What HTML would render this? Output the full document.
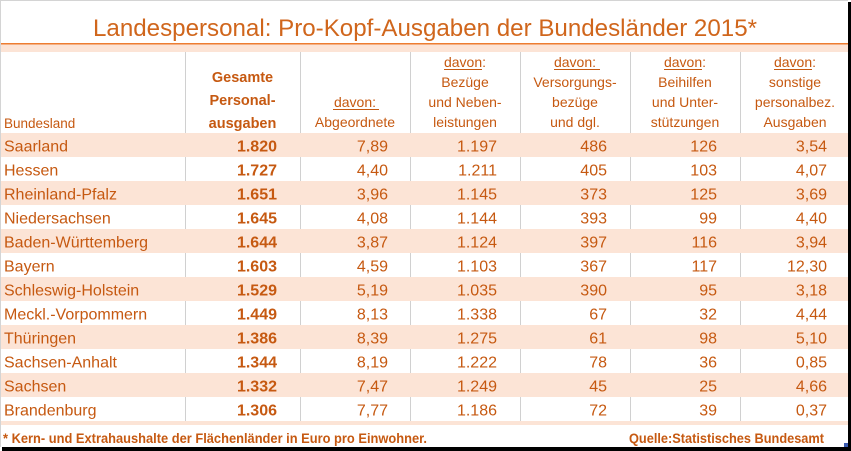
<!DOCTYPE html>
<html>
<head>
<meta charset="utf-8">
<style>
html,body{margin:0;padding:0;background:#fff;}
svg{display:block;}
text{font-family:"Liberation Sans",Arial,sans-serif;fill:#C65911;}
.h{font-size:14px;text-anchor:middle;}
.hb{font-size:14.5px;font-weight:bold;text-anchor:middle;}
.d{font-size:16px;}
.n{font-size:16px;text-anchor:end;}
.nb{font-size:16px;text-anchor:end;font-weight:bold;}
.f{font-size:14px;font-weight:bold;}
</style>
</head>
<body>
<svg width="851" height="451" viewBox="0 0 851 451" xmlns="http://www.w3.org/2000/svg">
<rect x="0" y="0" width="851" height="451" fill="#fff"/>
<!-- frame -->
<rect x="0" y="0" width="848" height="1" fill="#d4d4d4"/>
<rect x="0" y="0" width="1" height="447" fill="#d4d4d4"/>
<rect x="848" y="2" width="3" height="449" fill="#000"/>
<rect x="2" y="447" width="849" height="4" fill="#000"/>
<rect x="844" y="443" width="4" height="4" fill="#3a5bb0"/>

<!-- title -->
<text x="425" y="36" style="font-size:24px;fill:#D0661C" text-anchor="middle" textLength="664" lengthAdjust="spacingAndGlyphs">Landespersonal: Pro-Kopf-Ausgaben der Bundesländer 2015*</text>
<rect x="1" y="43" width="847" height="1.5" fill="#ED7D31"/>
<rect x="1" y="44.5" width="847" height="7.5" fill="#FCE4D6"/>

<!-- vertical dividers -->
<g fill="#d0d0d0">
<rect x="185" y="52" width="1" height="369"/>
<rect x="300" y="52" width="1" height="369"/>
<rect x="410" y="52" width="1" height="369"/>
<rect x="520" y="52" width="1" height="369"/>
<rect x="630" y="52" width="1" height="369"/>
<rect x="740" y="52" width="1" height="369"/>
</g>

<!-- pink rows -->
<g fill="#FCE4D6">
<rect x="1" y="133" width="847" height="24"/>
<rect x="1" y="181" width="847" height="24"/>
<rect x="1" y="229" width="847" height="24"/>
<rect x="1" y="277" width="847" height="24"/>
<rect x="1" y="325" width="847" height="24"/>
<rect x="1" y="373" width="847" height="24"/>
<rect x="1" y="421" width="847" height="4"/>
</g>

<!-- header -->
<text x="4" y="128" style="font-size:13.5px">Bundesland</text>

<text class="hb" x="242.5" y="82">Gesamte</text>
<text class="hb" x="242.5" y="105">Personal-</text>
<text class="hb" x="242.5" y="128">ausgaben</text>

<text class="h" x="355" y="107">davon:</text>
<rect x="333" y="109" width="46" height="1" fill="#C65911"/>
<text class="h" x="355" y="127">Abgeordnete</text>

<text class="h" x="465" y="67">davon:</text>
<rect x="444" y="69" width="38" height="1" fill="#C65911"/>
<text class="h" x="465" y="87">Bezüge</text>
<text class="h" x="465" y="107">und Neben-</text>
<text class="h" x="465" y="127">leistungen</text>

<text class="h" x="575" y="67">davon:</text>
<rect x="554" y="69" width="46" height="1" fill="#C65911"/>
<text class="h" x="575" y="87">Versorgungs-</text>
<text class="h" x="575" y="107">bezüge</text>
<text class="h" x="575" y="127">und dgl.</text>

<text class="h" x="685" y="67">davon:</text>
<rect x="664" y="69" width="38" height="1" fill="#C65911"/>
<text class="h" x="685" y="87">Beihilfen</text>
<text class="h" x="685" y="107">und Unter-</text>
<text class="h" x="685" y="127">stützungen</text>

<text class="h" x="795" y="67">davon:</text>
<rect x="774" y="69" width="38" height="1" fill="#C65911"/>
<text class="h" x="795" y="87">sonstige</text>
<text class="h" x="795" y="107">personalbez.</text>
<text class="h" x="795" y="127">Ausgaben</text>

<!-- data rows -->
<g>
<text class="d" x="4" y="151.5">Saarland</text>
<text class="nb" x="277" y="151.5">1.820</text>
<text class="n" x="388" y="151.5">7,89</text>
<text class="n" x="497" y="151.5">1.197</text>
<text class="n" x="607" y="151.5">486</text>
<text class="n" x="717" y="151.5">126</text>
<text class="n" x="827" y="151.5">3,54</text>

<text class="d" x="4" y="175.5">Hessen</text>
<text class="nb" x="277" y="175.5">1.727</text>
<text class="n" x="388" y="175.5">4,40</text>
<text class="n" x="497" y="175.5">1.211</text>
<text class="n" x="607" y="175.5">405</text>
<text class="n" x="717" y="175.5">103</text>
<text class="n" x="827" y="175.5">4,07</text>

<text class="d" x="4" y="199.5">Rheinland-Pfalz</text>
<text class="nb" x="277" y="199.5">1.651</text>
<text class="n" x="388" y="199.5">3,96</text>
<text class="n" x="497" y="199.5">1.145</text>
<text class="n" x="607" y="199.5">373</text>
<text class="n" x="717" y="199.5">125</text>
<text class="n" x="827" y="199.5">3,69</text>

<text class="d" x="4" y="223.5">Niedersachsen</text>
<text class="nb" x="277" y="223.5">1.645</text>
<text class="n" x="388" y="223.5">4,08</text>
<text class="n" x="497" y="223.5">1.144</text>
<text class="n" x="607" y="223.5">393</text>
<text class="n" x="717" y="223.5">99</text>
<text class="n" x="827" y="223.5">4,40</text>

<text class="d" x="4" y="247.5">Baden-Württemberg</text>
<text class="nb" x="277" y="247.5">1.644</text>
<text class="n" x="388" y="247.5">3,87</text>
<text class="n" x="497" y="247.5">1.124</text>
<text class="n" x="607" y="247.5">397</text>
<text class="n" x="717" y="247.5">116</text>
<text class="n" x="827" y="247.5">3,94</text>

<text class="d" x="4" y="271.5">Bayern</text>
<text class="nb" x="277" y="271.5">1.603</text>
<text class="n" x="388" y="271.5">4,59</text>
<text class="n" x="497" y="271.5">1.103</text>
<text class="n" x="607" y="271.5">367</text>
<text class="n" x="717" y="271.5">117</text>
<text class="n" x="827" y="271.5">12,30</text>

<text class="d" x="4" y="295.5">Schleswig-Holstein</text>
<text class="nb" x="277" y="295.5">1.529</text>
<text class="n" x="388" y="295.5">5,19</text>
<text class="n" x="497" y="295.5">1.035</text>
<text class="n" x="607" y="295.5">390</text>
<text class="n" x="717" y="295.5">95</text>
<text class="n" x="827" y="295.5">3,18</text>

<text class="d" x="4" y="319.5">Meckl.-Vorpommern</text>
<text class="nb" x="277" y="319.5">1.449</text>
<text class="n" x="388" y="319.5">8,13</text>
<text class="n" x="497" y="319.5">1.338</text>
<text class="n" x="607" y="319.5">67</text>
<text class="n" x="717" y="319.5">32</text>
<text class="n" x="827" y="319.5">4,44</text>

<text class="d" x="4" y="343.5">Thüringen</text>
<text class="nb" x="277" y="343.5">1.386</text>
<text class="n" x="388" y="343.5">8,39</text>
<text class="n" x="497" y="343.5">1.275</text>
<text class="n" x="607" y="343.5">61</text>
<text class="n" x="717" y="343.5">98</text>
<text class="n" x="827" y="343.5">5,10</text>

<text class="d" x="4" y="367.5">Sachsen-Anhalt</text>
<text class="nb" x="277" y="367.5">1.344</text>
<text class="n" x="388" y="367.5">8,19</text>
<text class="n" x="497" y="367.5">1.222</text>
<text class="n" x="607" y="367.5">78</text>
<text class="n" x="717" y="367.5">36</text>
<text class="n" x="827" y="367.5">0,85</text>

<text class="d" x="4" y="391.5">Sachsen</text>
<text class="nb" x="277" y="391.5">1.332</text>
<text class="n" x="388" y="391.5">7,47</text>
<text class="n" x="497" y="391.5">1.249</text>
<text class="n" x="607" y="391.5">45</text>
<text class="n" x="717" y="391.5">25</text>
<text class="n" x="827" y="391.5">4,66</text>

<text class="d" x="4" y="415.5">Brandenburg</text>
<text class="nb" x="277" y="415.5">1.306</text>
<text class="n" x="388" y="415.5">7,77</text>
<text class="n" x="497" y="415.5">1.186</text>
<text class="n" x="607" y="415.5">72</text>
<text class="n" x="717" y="415.5">39</text>
<text class="n" x="827" y="415.5">0,37</text>
</g>

<!-- footnote -->
<text class="f" x="3" y="443" textLength="424" lengthAdjust="spacingAndGlyphs">* Kern- und Extrahaushalte der Flächenländer in Euro pro Einwohner.</text>
<text class="f" x="629" y="443" textLength="195" lengthAdjust="spacingAndGlyphs">Quelle:Statistisches Bundesamt</text>
</svg>
</body>
</html>
